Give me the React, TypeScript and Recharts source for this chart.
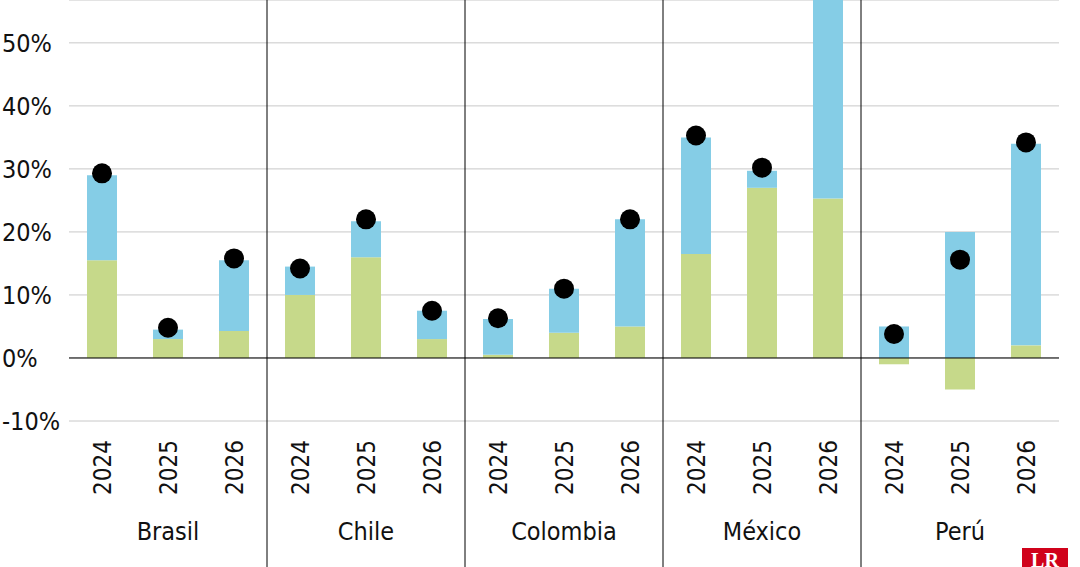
import React from "react";
import { ComposedChart, Bar, Line, XAxis, YAxis, CartesianGrid, ReferenceLine } from "recharts";

const countries = ["Brasil", "Chile", "Colombia", "México", "Perú"];
const years = ["2024", "2025", "2026"];
const green = [15.5, 3, 4.3, 10, 16, 3, 0.5, 4, 5, 16.5, 27, 25.3, -1, -5, 2];
const blue = [13.5, 1.5, 11.2, 4.5, 5.7, 4.5, 5.7, 7, 17, 18.5, 2.7, 35, 5, 20, 32];
const dots = [29.3, 4.8, 15.8, 14.2, 22, 7.5, 6.3, 11, 22, 35.3, 30.2, 60, 3.8, 15.6, 34.2];
const yTicks = [-10, 0, 10, 20, 30, 40, 50];

const data = green.map((g, i) => ({
  key: i,
  year: years[i % 3],
  country: countries[Math.floor(i / 3)],
  green: g,
  blue: blue[i],
  dot: dots[i],
}));

const FONT = "'DejaVu Sans Condensed', 'Liberation Sans Narrow', sans-serif";

const Tick = (props: any) => {
  const { x, y, payload, index } = props;
  const d = data[payload.value];
  const step = 66;
  return (
    <g>
      <text
        transform={`translate(${x + 9},${y + 11}) rotate(-90)`}
        textAnchor="end"
        fontSize={24}
        fontFamily={FONT}
        fill="#111"
      >
        {d.year}
      </text>
      {index % 3 === 1 && (
        <text x={x} y={540} textAnchor="middle" fontSize={25} fontFamily={FONT} fill="#111">
          {d.country}
        </text>
      )}
      {index % 3 === 0 && index > 0 && (
        <line x1={x - step / 2} x2={x - step / 2} y1={0} y2={567} stroke="#000" strokeWidth={1} />
      )}
    </g>
  );
};

export default function App() {
  return (
    <div style={{ position: "absolute", left: 0, top: 0, width: 1080, height: 567, background: "#fff" }}>
      <ComposedChart
        width={1080}
        height={567}
        data={data}
        stackOffset="sign"
        margin={{ top: 0, right: 21, bottom: 0, left: 2 }}
        barCategoryGap={18}
      >
        <CartesianGrid vertical={false} stroke="#c8c8c8" />
        <XAxis
          dataKey="key"
          tick={<Tick />}
          interval={0}
          axisLine={false}
          tickLine={false}
          height={146}
        />
        <YAxis
          domain={[-10, 56.8]}
          allowDataOverflow
          ticks={yTicks}
          tickFormatter={(v: number) => `${v}%`}
          axisLine={false}
          tickLine={false}
          width={67}
          tick={{ fontSize: 25, fontFamily: FONT, fill: "#111", textAnchor: "start", dx: -59 }}
        />
        <Bar dataKey="green" stackId="a" fill="#c6d98a" isAnimationActive={false} />
        <Bar dataKey="blue" stackId="a" fill="#85cde6" isAnimationActive={false} />
        <ReferenceLine y={0} stroke="#000" strokeWidth={1} />
        <Line
          dataKey="dot"
          stroke="none"
          isAnimationActive={false}
          dot={{ r: 10, fill: "#000", stroke: "none" }}
          activeDot={false}
        />
      </ComposedChart>
      <div
        style={{
          position: "absolute", left: 1022, top: 548, width: 46, height: 19, background: "#d0021b",
          color: "#fff", fontFamily: "serif", fontWeight: "bold", fontSize: 20, textAlign: "center", lineHeight: "24px", overflow: "hidden",
        }}
      >
        LR
      </div>
    </div>
  );
}
